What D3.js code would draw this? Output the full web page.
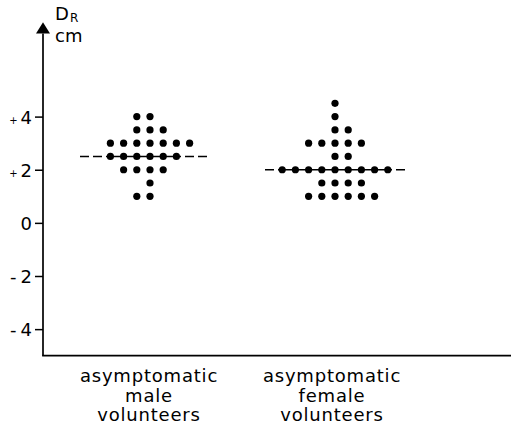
<!DOCTYPE html>
<html>
<head>
<meta charset="utf-8">
<script src="https://cdn.jsdelivr.net/npm/d3@7"></script>
<style>
  html, body { margin: 0; padding: 0; background: #fff; }
  svg { display: block; }
  text { font-family: "DejaVu Sans", sans-serif; fill: #000; }
</style>
</head>
<body>
<svg id="chart" width="512" height="428"></svg>
<script>
// Groups of volunteers
const groups = ["male", "female"];
const groupLabels = [
  ["asymptomatic", "male", "volunteers"],
  ["asymptomatic", "female", "volunteers"]
];

// Individual D_R measurements (cm), one entry per volunteer
const maleValues = [
  4, 4,
  3.5, 3.5, 3.5,
  3, 3, 3, 3, 3, 3, 3,
  2.5, 2.5, 2.5, 2.5, 2.5, 2.5,
  2, 2, 2, 2,
  1.5,
  1, 1
];
const femaleValues = [
  4.5,
  4,
  3.5, 3.5,
  3, 3, 3, 3, 3,
  2.5, 2.5,
  2, 2, 2, 2, 2, 2, 2, 2, 2,
  1.5, 1.5, 1.5, 1.5,
  1, 1, 1, 1, 1, 1
];

// Y axis ticks
const tickValues = [-4, -2, 0, 2, 4];
const tickLabels = ["-4", "-2", "0", "+2", "+4"];

// ---- layout ----
const svg = d3.select("#chart");
const axisX = 43;
const axisRight = 511;
const yMinVal = -5;
const arrowTipVal = 7.55;

const y = d3.scaleLinear().domain([-5, 4]).range([355.7, 116.6]);
const x = d3.scalePoint().domain(groups).range([150, 335]);

const dotStep = 13.2;
const dotR = 3.6;
// row alignment when a row has an even count: which side gets the extra dot
const rowLean = { male: "left", female: "right" };
// median line extents from group centre (px)
const medianExtent = { male: [-70, 57], female: [-70, 70] };

const seriesByGroup = { male: maleValues, female: femaleValues };

// ---- axes ----
const yAxis = d3.axisLeft(y)
  .tickValues(tickValues)
  .tickSize(8)
  .tickPadding(3)
  .tickFormat(d => tickLabels[tickValues.indexOf(d)]);

const gY = svg.append("g")
  .attr("transform", `translate(${axisX},0)`)
  .call(yAxis);
gY.select(".domain").remove();
gY.selectAll(".tick line").attr("stroke", "#000").attr("stroke-width", 1.5);
gY.selectAll(".tick text")
  .style("font-size", "18px")
  .attr("dy", "0.36em")
  .each(function (d) {
    const label = tickLabels[tickValues.indexOf(d)];
    const t = d3.select(this).text(null);
    if (label[0] === "+" || label[0] === "-") {
      // small sign set apart from the digit
      t.append("tspan")
        .style("font-size", label[0] === "+" ? "10px" : "18px")
        .text(label[0]);
      t.append("tspan")
        .attr("dx", label[0] === "+" ? 3 : 4)
        .text(label.slice(1));
    } else {
      t.text(label);
    }
  });

// vertical axis line with arrowhead
const arrowBase = 33.5;
svg.append("line")
  .attr("x1", axisX).attr("x2", axisX)
  .attr("y1", y(yMinVal)).attr("y2", arrowBase)
  .attr("stroke", "#000").attr("stroke-width", 1.7);
svg.append("path")
  .attr("d", `M${axisX},${y(arrowTipVal)} L${axisX - 7},${arrowBase} L${axisX + 7},${arrowBase} Z`)
  .attr("fill", "#000");

// horizontal baseline
svg.append("line")
  .attr("x1", axisX - 0.85).attr("x2", axisRight)
  .attr("y1", y(yMinVal)).attr("y2", y(yMinVal))
  .attr("stroke", "#000").attr("stroke-width", 1.7);

// axis title D_R cm
const title = svg.append("text").attr("x", 55).attr("y", 20).style("font-size", "18px");
title.append("tspan").text("D");
title.append("tspan").attr("dx", 1).attr("dy", 2).style("font-size", "12px").text("R");
svg.append("text").attr("x", 55).attr("y", 42).style("font-size", "18px").text("cm");

// ---- dots and medians ----
groups.forEach(g => {
  const vals = seriesByGroup[g];
  const cx = x(g);
  const rows = d3.groups(vals, v => v);
  const pts = [];
  rows.forEach(([v, arr]) => {
    const n = arr.length;
    const start = rowLean[g] === "left" ? -Math.floor(n / 2) : -Math.floor((n - 1) / 2);
    arr.forEach((_, i) => pts.push({ v, k: start + i }));
  });

  const med = d3.median(vals);
  const medRow = pts.filter(p => p.v === med);
  const kMin = d3.min(medRow, p => p.k), kMax = d3.max(medRow, p => p.k);
  const ym = y(med);
  const left = cx + medianExtent[g][0], right = cx + medianExtent[g][1];
  const innerL = cx + kMin * dotStep, innerR = cx + kMax * dotStep;

  // dashed ends drawn from outer ends inward
  svg.append("line")
    .attr("x1", left).attr("x2", innerL).attr("y1", ym).attr("y2", ym)
    .attr("stroke", "#000").attr("stroke-width", 1.5).attr("stroke-dasharray", "9,4");
  svg.append("line")
    .attr("x1", right).attr("x2", innerR).attr("y1", ym).attr("y2", ym)
    .attr("stroke", "#000").attr("stroke-width", 1.5).attr("stroke-dasharray", "9,4");
  svg.append("line")
    .attr("x1", innerL).attr("x2", innerR).attr("y1", ym).attr("y2", ym)
    .attr("stroke", "#000").attr("stroke-width", 1.5);

  svg.append("g").selectAll("circle")
    .data(pts)
    .join("circle")
    .attr("cx", d => cx + d.k * dotStep)
    .attr("cy", d => y(d.v))
    .attr("r", dotR)
    .attr("fill", "#000");
});

// ---- category labels ----
const labelCenters = { male: x("male") - 1, female: x("female") - 3 };
groups.forEach((g, gi) => {
  const t = svg.append("text")
    .attr("text-anchor", "middle")
    .style("font-size", "18px")
    .style("letter-spacing", "0.8px");
  groupLabels[gi].forEach((line, li) => {
    t.append("tspan")
      .attr("x", labelCenters[g])
      .attr("y", 382 + li * 19.7)
      .text(line);
  });
});
</script>
</body>
</html>
